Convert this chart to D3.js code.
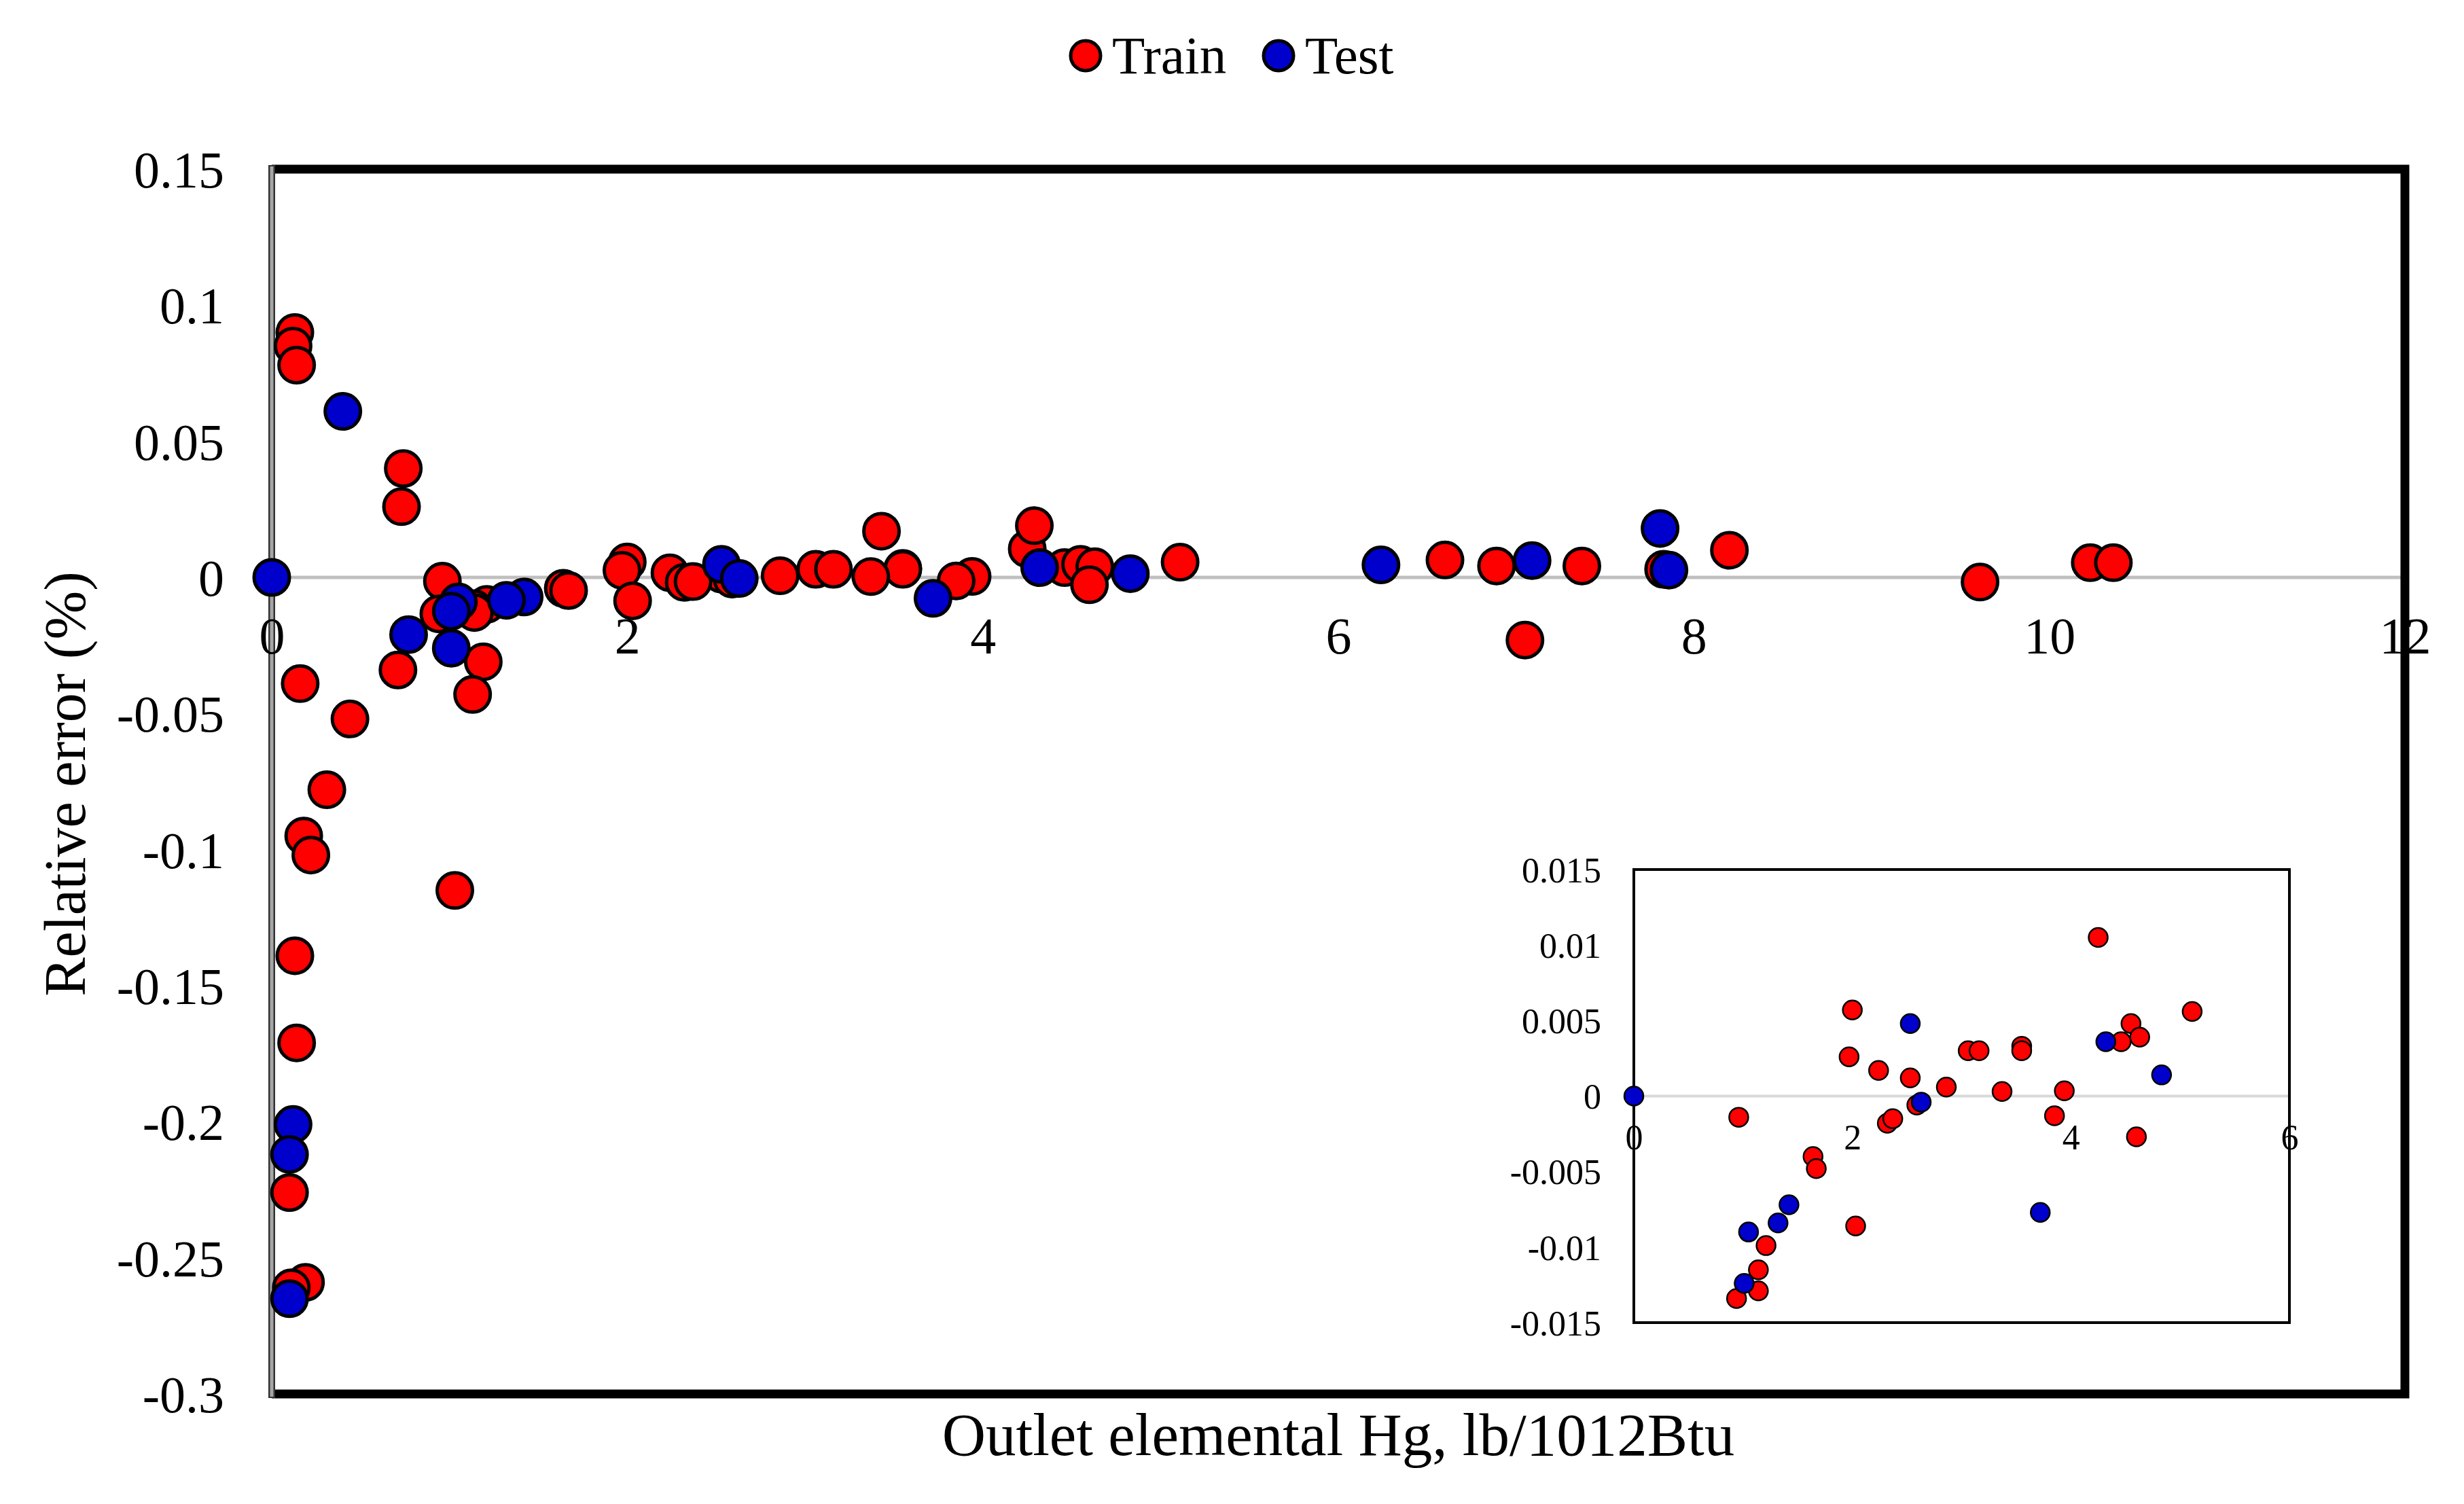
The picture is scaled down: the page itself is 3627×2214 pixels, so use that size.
<!DOCTYPE html>
<html>
<head>
<meta charset="utf-8">
<script src="https://cdn.jsdelivr.net/npm/d3@7"></script>
<style>
  html, body { margin: 0; padding: 0; background: #fff; }
  svg { display: block; }
  text { font-family: "Liberation Serif", "Times New Roman", serif; fill: #000; }
</style>
</head>
<body>
<svg id="chart" width="3627" height="2214"></svg>
<script>
// Relative error scatter, train vs test, with a zoomed inset near zero.

const SERIES = ["Train", "Test"];
const SERIES_COLOR = ["#ff0000", "#0000cc"];

// [outlet Hg, relative error]
const trainPoints = [
  [0.96, -0.0014], [2.00, 0.0057], [1.97, 0.0026], [2.24, 0.0017], [2.53, 0.0012],
  [2.86, 0.0006], [3.06, 0.0030], [3.16, 0.0030], [3.55, 0.0033], [3.55, 0.0030],
  [3.37, 0.0003], [3.94, 0.00035], [3.85, -0.0013], [4.25, 0.0105], [4.46, 0.0036],
  [4.55, 0.0048], [4.63, 0.0039], [4.60, -0.0027], [5.11, 0.0056], [2.32, -0.0018],
  [2.37, -0.0015], [2.59, -0.0006], [1.64, -0.0040], [1.67, -0.0048], [2.03, -0.0086],
  [1.21, -0.0099], [1.14, -0.0115], [1.14, -0.0129], [0.94, -0.0134],
  [0.13, 0.090], [0.12, 0.085], [0.14, 0.078], [0.74, 0.040], [0.73, 0.026],
  [0.16, -0.039], [0.44, -0.052], [0.71, -0.034], [1.19, -0.031], [1.13, -0.043],
  [0.31, -0.078], [0.18, -0.095], [0.22, -0.102], [1.03, -0.115], [0.13, -0.139],
  [0.14, -0.171], [0.10, -0.226], [0.19, -0.259], [0.11, -0.261],
  [3.43, 0.017], [4.29, 0.019], [6.60, 0.0064], [6.89, 0.0042], [7.37, 0.0042],
  [7.05, -0.023], [7.83, 0.003], [8.20, 0.010], [9.61, -0.0017], [10.23, 0.0054],
  [10.36, 0.0054]
];

const testPoints = [
  [0, 0], [2.53, 0.0048], [2.63, -0.0004], [3.72, -0.0077], [4.32, 0.0036],
  [4.83, 0.0014], [1.42, -0.0072], [1.32, -0.0084], [1.05, -0.0090], [1.01, -0.0124],
  [0.40, 0.061], [0.77, -0.021], [1.01, -0.026], [0.12, -0.201], [0.10, -0.212],
  [0.10, -0.265], [6.24, 0.0046], [7.09, 0.0062], [7.81, 0.018], [7.86, 0.0027]
];

const xTicks = [0, 2, 4, 6, 8, 10, 12];
const yTicks = [0.15, 0.1, 0.05, 0, -0.05, -0.1, -0.15, -0.2, -0.25, -0.3];
const insetXTicks = [0, 2, 4, 6];
const insetYTicks = [0.015, 0.01, 0.005, 0, -0.005, -0.01, -0.015];

const X_TITLE = "Outlet elemental Hg, lb/1012Btu";
const Y_TITLE = "Relative error (%)";

const svg = d3.select("#chart");
const fmt = v => String(+v.toFixed(3));

// ---- main panel ----
const L = 400, R = 3540, T = 249, B = 2052;
const x = d3.scaleLinear().domain([0, 12]).range([L, R]);
const y = d3.scaleLinear().domain([-0.3, 0.15]).range([B, T]);

// zero line
svg.append("line")
  .attr("x1", x(0)).attr("x2", x(12))
  .attr("y1", y(0)).attr("y2", y(0))
  .attr("stroke", "#bfbfbf").attr("stroke-width", 5);

// frame: heavy black top / right / bottom
svg.append("path")
  .attr("d", "M" + L + "," + T + "H" + R + "V" + B + "H" + L)
  .attr("fill", "none").attr("stroke", "#000").attr("stroke-width", 13)
  .attr("stroke-linejoin", "miter");

// left axis: grey line with dark edges
svg.append("line")
  .attr("x1", L).attr("x2", L).attr("y1", T - 6).attr("y2", B + 6)
  .attr("stroke", "#333").attr("stroke-width", 10);
svg.append("line")
  .attr("x1", L).attr("x2", L).attr("y1", T - 4).attr("y2", B + 4)
  .attr("stroke", "#a6a6a6").attr("stroke-width", 5);

// y axis labels
const yAxis = svg.append("g")
  .attr("transform", "translate(" + L + ",0)")
  .call(d3.axisLeft(y).tickValues(yTicks).tickSize(0).tickPadding(70).tickFormat(fmt));
yAxis.select(".domain").remove();
yAxis.selectAll("text")
  .attr("font-size", 76).attr("font-family", null).attr("dy", "0.35em");

// x axis labels (cross at y = 0)
const xAxis = svg.append("g")
  .attr("transform", "translate(0," + y(0) + ")")
  .call(d3.axisBottom(x).tickValues(xTicks).tickSize(0).tickFormat(fmt));
xAxis.select(".domain").remove();
xAxis.selectAll("text")
  .attr("font-size", 76).attr("font-family", null)
  .attr("y", 85).attr("dy", "0.35em");

// points
function drawPoints(g, pts, sx, sy, color, r, sw) {
  g.selectAll(null).data(pts).enter().append("circle")
    .attr("cx", d => sx(d[0]))
    .attr("cy", d => sy(d[1]))
    .attr("r", r)
    .attr("fill", color)
    .attr("stroke", "#000")
    .attr("stroke-width", sw);
}
const mainPts = svg.append("g");
drawPoints(mainPts, trainPoints, x, y, SERIES_COLOR[0], 26, 5);
drawPoints(mainPts, testPoints, x, y, SERIES_COLOR[1], 26, 5);

// axis titles
svg.append("text")
  .attr("x", 1970).attr("y", 2142)
  .attr("text-anchor", "middle").attr("font-size", 89)
  .text(X_TITLE);
svg.append("text")
  .attr("transform", "translate(95," + 1154 + ") rotate(-90)")
  .attr("text-anchor", "middle").attr("dy", "0.35em").attr("font-size", 86)
  .text(Y_TITLE);

// legend
const legendX = [1598, 1882];
const legend = svg.append("g");
SERIES.forEach(function (s, i) {
  legend.append("circle")
    .attr("cx", legendX[i]).attr("cy", 82).attr("r", 22)
    .attr("fill", SERIES_COLOR[i]).attr("stroke", "#000").attr("stroke-width", 5);
  legend.append("text")
    .attr("x", legendX[i] + 39).attr("y", 108)
    .attr("font-size", 79)
    .text(s);
});

// ---- inset ----
const IL = 2405, IR = 3370, IT = 1280, IB = 1947;
const ix = d3.scaleLinear().domain([0, 6]).range([IL, IR]);
const iy = d3.scaleLinear().domain([-0.015, 0.015]).range([IB, IT]);

const inset = svg.append("g");
inset.append("rect")
  .attr("x", IL).attr("y", IT).attr("width", IR - IL).attr("height", IB - IT)
  .attr("fill", "#fff");
inset.append("line")
  .attr("x1", ix(0)).attr("x2", ix(6)).attr("y1", iy(0)).attr("y2", iy(0))
  .attr("stroke", "#d9d9d9").attr("stroke-width", 4);
inset.append("rect")
  .attr("x", IL).attr("y", IT).attr("width", IR - IL).attr("height", IB - IT)
  .attr("fill", "none").attr("stroke", "#000").attr("stroke-width", 4);

const iyAxis = inset.append("g")
  .attr("transform", "translate(" + IL + ",0)")
  .call(d3.axisLeft(iy).tickValues(insetYTicks).tickSize(0).tickPadding(48).tickFormat(fmt));
iyAxis.select(".domain").remove();
iyAxis.selectAll("text")
  .attr("font-size", 52).attr("font-family", null).attr("dy", "0.35em");

const ixAxis = inset.append("g")
  .attr("transform", "translate(0," + iy(0) + ")")
  .call(d3.axisBottom(ix).tickValues(insetXTicks).tickSize(0).tickFormat(fmt));
ixAxis.select(".domain").remove();
ixAxis.selectAll("text")
  .attr("font-size", 52).attr("font-family", null)
  .attr("y", 60).attr("dy", "0.35em");

const inRange = d => d[0] >= 0 && d[0] <= 6 && d[1] >= -0.015 && d[1] <= 0.015;
const insetPts = inset.append("g");
drawPoints(insetPts, trainPoints.filter(inRange), ix, iy, SERIES_COLOR[0], 14, 2.5);
drawPoints(insetPts, testPoints.filter(inRange), ix, iy, SERIES_COLOR[1], 14, 2.5);
</script>
</body>
</html>
